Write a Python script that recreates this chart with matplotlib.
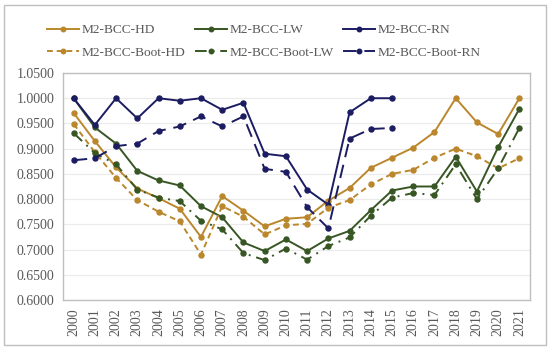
import matplotlib.pyplot as plt
from matplotlib.patches import Rectangle
from matplotlib.ticker import MultipleLocator, FormatStrFormatter

# Data
years = [str(y) for y in range(2000, 2022)]
hd = [0.971, 0.915, 0.863, 0.821, 0.802, 0.781, 0.725, 0.806, 0.777, 0.746, 0.761,
      0.764, 0.797, 0.822, 0.862, 0.882, 0.902, 0.933, 1.000, 0.952, 0.929, 1.000]
lw = [1.000, 0.942, 0.910, 0.856, 0.837, 0.827, 0.786, 0.764, 0.714, 0.697, 0.720,
      0.697, 0.722, 0.737, 0.778, 0.817, 0.825, 0.825, 0.884, 0.815, 0.903, 0.979]
rn = [1.000, 0.947, 1.000, 0.960, 1.000, 0.995, 1.000, 0.977, 0.991, 0.890, 0.885,
      0.819, 0.789, 0.972, 1.000, 1.000]
hd_boot = [0.949, 0.893, 0.842, 0.798, 0.775, 0.756, 0.690, 0.786, 0.765, 0.730, 0.748,
           0.751, 0.783, 0.798, 0.829, 0.850, 0.858, 0.882, 0.900, 0.885, 0.861, 0.881]
lw_boot = [0.931, 0.891, 0.869, 0.819, 0.803, 0.796, 0.757, 0.740, 0.693, 0.679, 0.702,
           0.680, 0.707, 0.724, 0.767, 0.803, 0.812, 0.808, 0.869, 0.800, 0.861, 0.941]
rn_boot = [0.877, 0.881, 0.905, 0.910, 0.935, 0.944, 0.964, 0.944, 0.964, 0.860, 0.854,
           0.784, 0.742, 0.920, 0.939, 0.941]

gold = '#BA872C'
green = '#375623'
navy = '#1C1C62'
grey = '#595959'

plt.rcParams['font.family'] = ['Liberation Serif', 'DejaVu Serif']

fig = plt.figure(figsize=(5.5, 3.5), dpi=100)
ax = fig.add_axes([63 / 550, 50 / 350, 467 / 550, 227 / 350])

x = list(range(len(years)))
ms = 3.6
lwid = 1.4
ax.plot(x, hd, color=gold, lw=lwid, marker='o', ms=ms, label='M2-BCC-HD')
ax.plot(x, lw, color=green, lw=lwid, marker='o', ms=ms, label='M2-BCC-LW')
ax.plot(x[:len(rn)], rn, color=navy, lw=lwid, marker='o', ms=ms, label='M2-BCC-RN')
ax.plot(x, hd_boot, color=gold, lw=lwid, marker='o', ms=ms, ls=(0, (3, 2)),
        label='M2-BCC-Boot-HD')
ax.plot(x, lw_boot, color=green, lw=lwid, marker='o', ms=ms, ls=(0, (6, 3, 1, 3)),
        label='M2-BCC-Boot-LW')
ax.plot(x[:len(rn_boot)], rn_boot, color=navy, lw=lwid, marker='o', ms=ms,
        ls=(0, (7, 4)), label='M2-BCC-Boot-RN')

ax.set_xlim(-0.5, len(years) - 0.5)
ax.set_ylim(0.6, 1.05)
ax.set_xticks(x)
ax.set_xticklabels(years, rotation=90)
ax.yaxis.set_major_locator(MultipleLocator(0.05))
ax.yaxis.set_major_formatter(FormatStrFormatter('%.4f'))
ax.tick_params(axis='both', length=0, colors=grey, labelsize=10)
ax.tick_params(axis='y', pad=6)
ax.tick_params(axis='x', pad=6)
ax.grid(axis='y', color='#EBEBEB', lw=0.8)
ax.set_axisbelow(True)
for s in ax.spines.values():
    s.set_color('#BFBFBF')
    s.set_linewidth(1)

# legend: order by rows (solid on top, boot below)
h, l = ax.get_legend_handles_labels()
order = [0, 3, 1, 4, 2, 5]
fig.legend([h[i] for i in order], [l[i] for i in order], ncol=3, numpoints=1,
           loc='upper center', bbox_to_anchor=(0.5 - 11 / 550, 1 - 12 / 350),
           frameon=False, fontsize=9.6, labelcolor=grey, handlelength=2.4,
           handletextpad=0.2, columnspacing=0.7, labelspacing=0.75, markerscale=0.9)

# outer chart border
fig.patches.append(Rectangle((4 / 550, 5 / 350), 542 / 550, 340 / 350,
                             transform=fig.transFigure, fill=False,
                             edgecolor='#BFBFBF', lw=1))

fig.savefig('out.png', dpi=100)
